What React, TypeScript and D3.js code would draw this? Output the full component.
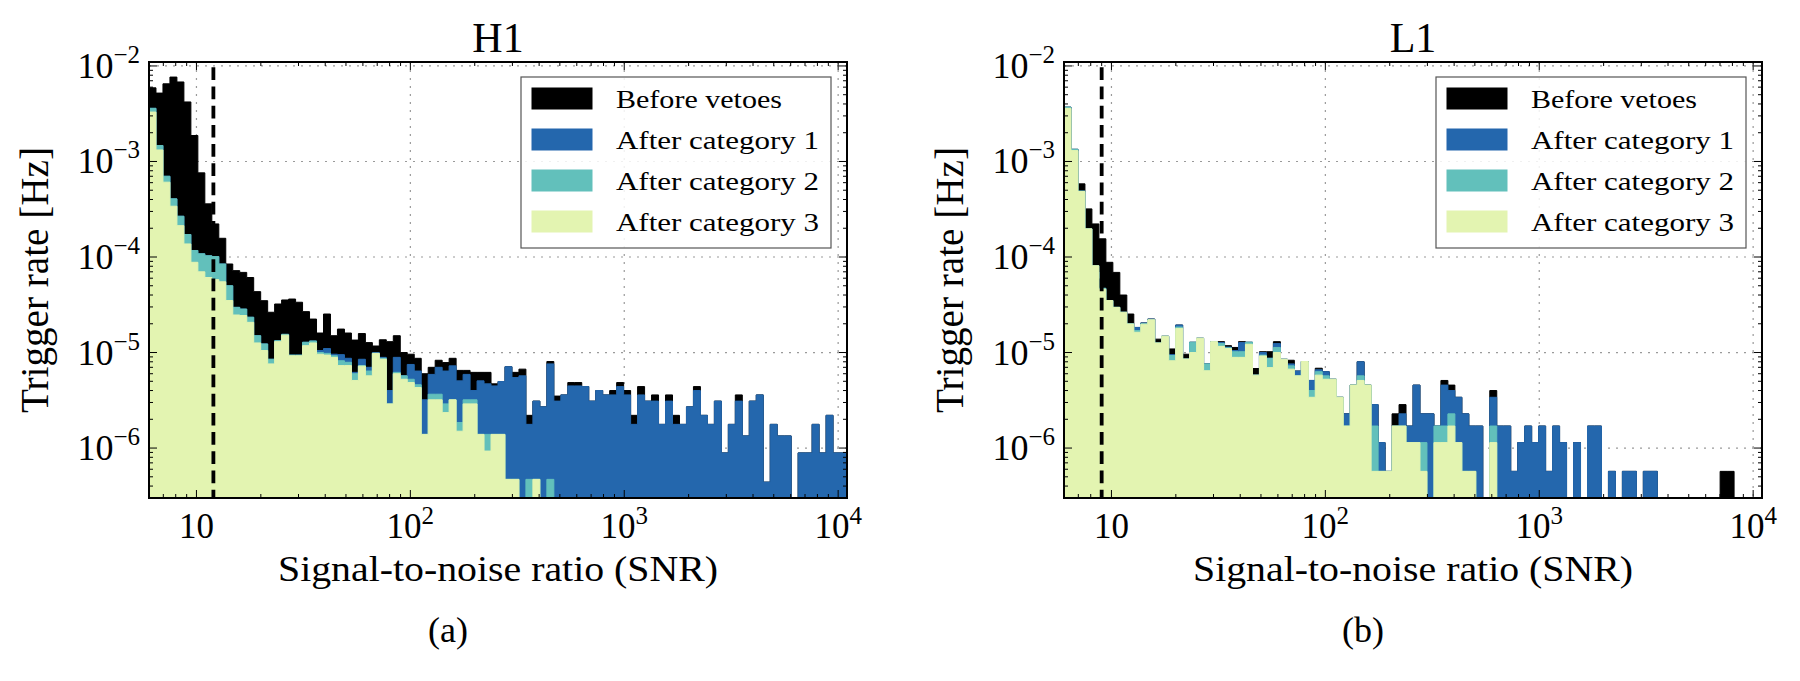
import React from 'react';
import * as d3 from 'd3';

// ---------------- data ----------------
const BIN_COUNT = 100;
const SNR_MIN = 6;
const SNR_MAX = 1.1e4;
const RATE_MIN = 3e-7;
const RATE_MAX = 1.1e-2;

const SERIES_NAMES = ['Before vetoes', 'After category 1', 'After category 2', 'After category 3'];
const X_TICK_VALUES = [10, 100, 1000, 10000];
const X_TICK_EXP = ['', '2', '3', '4'];
const Y_TICK_VALUES = [1e-2, 1e-3, 1e-4, 1e-5, 1e-6];
const Y_TICK_EXP = ['\u22122', '\u22123', '\u22124', '\u22125', '\u22126'];

const H1_BEFORE = [5.9e-3,5.2e-3,6.5e-3,7.65e-3,6.8e-3,4.2e-3,1.87e-3,7.6e-4,3.6e-4,2.22e-4,
1.57e-4,8.45e-5,7.2e-5,6.9e-5,6.1e-5,4.34e-5,3.49e-5,2.64e-5,3.22e-5,3.55e-5,
3.63e-5,3.36e-5,2.68e-5,2.24e-5,1.6e-5,2.53e-5,1.5e-5,1.76e-5,1.6e-5,1.35e-5,
1.58e-5,1.27e-5,1.17e-5,1.36e-5,1.3e-5,1.5e-5,1.0e-5,9.6e-6,8.7e-6,6.0e-6,
7.0e-6,8.3e-6,7.85e-6,8.7e-6,6.5e-6,6.5e-6,6.2e-6,6.2e-6,6.2e-6,4.7e-6,
4.97e-6,7.1e-6,6.2e-6,6.7e-6,2.2e-6,3.1e-6,2.7e-6,8.05e-6,3.5e-6,3.6e-6,
4.85e-6,4.85e-6,4.4e-6,3.1e-6,4.0e-6,3.6e-6,4.0e-6,4.85e-6,4.0e-6,2.2e-6,
4.4e-6,3.1e-6,3.6e-6,1.77e-6,3.6e-6,2.2e-6,1.77e-6,2.7e-6,4.4e-6,2.2e-6,
1.77e-6,3.1e-6,8.9e-7,1.77e-6,3.6e-6,1.34e-6,3.1e-6,3.6e-6,4.4e-7,1.77e-6,
1.34e-6,1.34e-6,0,8.9e-7,8.9e-7,1.77e-6,8.9e-7,2.2e-6,8.9e-7,8.9e-7];

const H1_CAT1 = [3.6e-3,1.47e-3,7.0e-4,4.06e-4,2.67e-4,1.72e-4,1.17e-4,1.08e-4,1.03e-4,1.01e-4,
8.45e-5,5.0e-5,2.97e-5,2.85e-5,2.34e-5,1.5e-5,1.23e-5,8.5e-6,1.33e-5,1.55e-5,
9.4e-6,9.4e-6,1.28e-5,1.32e-5,1.05e-5,1.1e-5,9.6e-6,9.5e-6,8.7e-6,6.2e-6,
8.5e-6,7.0e-6,1.0e-5,8.9e-6,4.0e-6,8.9e-6,5.7e-6,7.5e-6,6.4e-6,3.2e-6,
5.9e-6,7.0e-6,6.4e-6,7.25e-6,5.05e-6,5.9e-6,4.0e-6,5.05e-6,4.7e-6,4.47e-6,
4.97e-6,7.1e-6,5.47e-6,5.7e-6,1.77e-6,3.1e-6,2.7e-6,7.6e-6,3.1e-6,3.6e-6,
4.47e-6,4.47e-6,4.4e-6,3.1e-6,4.0e-6,3.6e-6,3.6e-6,4.4e-6,3.6e-6,1.77e-6,
3.6e-6,3.1e-6,3.1e-6,1.77e-6,3.1e-6,1.77e-6,1.77e-6,2.7e-6,4.0e-6,2.2e-6,
1.77e-6,3.1e-6,8.9e-7,1.77e-6,3.1e-6,1.34e-6,3.1e-6,3.6e-6,4.4e-7,1.77e-6,
1.34e-6,1.34e-6,0,8.9e-7,8.9e-7,1.77e-6,8.9e-7,2.2e-6,8.9e-7,8.9e-7];

const H1_CAT2 = [3.6e-3,1.47e-3,7.0e-4,4.06e-4,2.67e-4,1.72e-4,1.17e-4,1.08e-4,1.03e-4,1.01e-4,
8.45e-5,5.0e-5,2.97e-5,2.85e-5,2.34e-5,1.5e-5,1.23e-5,8.5e-6,1.33e-5,1.55e-5,
9.4e-6,9.4e-6,1.28e-5,1.32e-5,1.0e-5,9.8e-6,9.25e-6,8.2e-6,7.9e-6,6.0e-6,
7.3e-6,6.4e-6,9.8e-6,8.7e-6,2.9e-6,6.2e-6,5.7e-6,5.25e-6,4.6e-6,1.39e-6,
3.66e-6,3.66e-6,2.9e-6,3.2e-6,1.85e-6,3.2e-6,3.2e-6,1.39e-6,1.39e-6,1.39e-6,
1.39e-6,4.7e-7,4.7e-7,0,4.7e-7,4.7e-7,0,4.7e-7,0,0,
0,0,0,0,0,0,0,0,0,0,
0,0,0,0,0,0,0,0,0,0,
0,0,0,0,0,0,0,0,0,0,
0,0,0,0,0,0,0,0,0,0];

const H1_CAT3 = [3.29e-3,1.32e-3,6.07e-4,3.4e-4,2.13e-4,1.37e-4,8.8e-5,7.0e-5,6.1e-5,5.8e-5,
5.5e-5,3.5e-5,2.47e-5,2.44e-5,2.07e-5,1.26e-5,1.05e-5,7.6e-6,1.3e-5,1.52e-5,
9.25e-6,9.25e-6,1.18e-5,1.26e-5,9.6e-6,9.4e-6,8.9e-6,7.3e-6,7.3e-6,5.1e-6,
7.2e-6,5.7e-6,9.8e-6,8.5e-6,2.9e-6,6.0e-6,5.25e-6,4.85e-6,4.3e-6,1.39e-6,
3.2e-6,3.2e-6,2.35e-6,3.2e-6,1.5e-6,2.9e-6,2.9e-6,1.39e-6,9.3e-7,1.39e-6,
1.39e-6,4.7e-7,4.7e-7,0,0,4.7e-7,0,0,0,0,
0,0,0,0,0,0,0,0,0,0,
0,0,0,0,0,0,0,0,0,0,
0,0,0,0,0,0,0,0,0,0,
0,0,0,0,0,0,0,0,0,0];

const L1_BEFORE = [3.7e-3,1.34e-3,5.83e-4,3.19e-4,2.22e-4,1.55e-4,8.8e-5,6.9e-5,4.0e-5,2.53e-5,
1.83e-5,2.04e-5,2.24e-5,1.38e-5,1.48e-5,1.09e-5,1.94e-5,9.6e-6,1.28e-5,1.41e-5,
7.6e-6,1.3e-5,1.3e-5,1.18e-5,1.13e-5,1.3e-5,1.28e-5,6.8e-6,1.02e-5,1.02e-5,
1.3e-5,8.5e-6,8.3e-6,6.4e-6,8.05e-6,5.1e-6,6.85e-6,6.3e-6,5.25e-6,3.4e-6,
2.28e-6,4.56e-6,8.0e-6,4.56e-6,2.85e-6,1.14e-6,5.7e-7,2.28e-6,2.85e-6,1.7e-6,
4.56e-6,2.28e-6,2.28e-6,1.7e-6,5.1e-6,4.56e-6,3.4e-6,2.28e-6,1.7e-6,1.7e-6,
0,4.0e-6,1.7e-6,1.7e-6,5.7e-7,1.14e-6,1.7e-6,1.14e-6,1.7e-6,5.7e-7,
1.7e-6,1.14e-6,0,1.14e-6,0,1.7e-6,1.7e-6,0,5.7e-7,0,
5.7e-7,5.7e-7,0,5.7e-7,5.7e-7,0,0,0,0,0,
0,0,0,0,5.7e-7,5.7e-7,0,0,0,0];

const L1_CAT1 = [3.7e-3,1.34e-3,4.9e-4,1.97e-4,8.1e-5,4.7e-5,3.5e-5,2.97e-5,2.64e-5,2.0e-5,
1.83e-5,2.04e-5,2.24e-5,1.26e-5,1.48e-5,9.5e-6,1.94e-5,8.55e-6,1.28e-5,1.41e-5,
7.6e-6,1.3e-5,1.27e-5,1.14e-5,1.05e-5,1.27e-5,1.28e-5,5.8e-6,1.0e-5,8.7e-6,
1.24e-5,8.5e-6,7.6e-6,6.4e-6,8.05e-6,5.1e-6,6.6e-6,6.3e-6,5.25e-6,3.4e-6,
2.28e-6,4.56e-6,8.0e-6,4.56e-6,2.85e-6,1.14e-6,5.7e-7,1.7e-6,2.28e-6,1.7e-6,
4.56e-6,2.28e-6,2.28e-6,1.7e-6,4.56e-6,4.0e-6,3.4e-6,2.28e-6,1.7e-6,1.7e-6,
0,3.4e-6,1.7e-6,1.7e-6,5.7e-7,1.14e-6,1.7e-6,1.14e-6,1.7e-6,5.7e-7,
1.7e-6,1.14e-6,0,1.14e-6,0,1.7e-6,1.7e-6,0,5.7e-7,0,
5.7e-7,5.7e-7,0,5.7e-7,5.7e-7,0,0,0,0,0,
0,0,0,0,0,0,0,0,0,0];

const L1_CAT2 = [3.7e-3,1.34e-3,4.9e-4,1.97e-4,8.1e-5,4.7e-5,3.5e-5,2.97e-5,2.64e-5,2.0e-5,
1.7e-5,2.0e-5,2.2e-5,1.26e-5,1.48e-5,9.3e-6,1.85e-5,8.55e-6,1.28e-5,1.41e-5,
7.6e-6,1.3e-5,1.24e-5,1.12e-5,1.02e-5,1.02e-5,1.28e-5,5.8e-6,9.4e-6,8.7e-6,
1.13e-5,8.5e-6,7.25e-6,5.7e-6,8.05e-6,4.0e-6,6.3e-6,5.7e-6,5.25e-6,3.4e-6,
1.7e-6,4.56e-6,5.7e-6,4.56e-6,1.7e-6,5.7e-7,5.7e-7,1.7e-6,1.7e-6,1.14e-6,
1.14e-6,1.14e-6,0,1.7e-6,1.7e-6,2.28e-6,1.14e-6,5.7e-7,5.7e-7,0,
0,1.7e-6,0,0,0,0,0,0,0,0,
0,0,0,0,0,0,0,0,0,0,
0,0,0,0,0,0,0,0,0,0,
0,0,0,0,0,0,0,0,0,0];

const L1_CAT3 = [3.6e-3,1.3e-3,4.85e-4,1.97e-4,8.1e-5,4.6e-5,3.5e-5,2.97e-5,2.64e-5,1.99e-5,
1.63e-5,1.98e-5,2.2e-5,1.26e-5,1.48e-5,8.2e-6,1.79e-5,8.55e-6,1.0e-5,1.41e-5,
6.45e-6,1.3e-5,1.16e-5,1.1e-5,8.9e-6,8.9e-6,1.22e-5,5.8e-6,9.2e-6,6.95e-6,
1.0e-5,8.5e-6,6.7e-6,5.7e-6,8.05e-6,3.4e-6,5.8e-6,5.25e-6,5.25e-6,3.4e-6,
1.7e-6,4.56e-6,5.1e-6,4.56e-6,5.7e-7,5.7e-7,5.7e-7,1.7e-6,1.7e-6,1.14e-6,
1.14e-6,5.7e-7,0,1.14e-6,1.14e-6,1.7e-6,1.14e-6,5.7e-7,5.7e-7,0,
0,1.14e-6,0,0,0,0,0,0,0,0,
0,0,0,0,0,0,0,0,0,0,
0,0,0,0,0,0,0,0,0,0,
0,0,0,0,0,0,0,0,0,0];

const H1_THRESHOLD = 12;
const L1_THRESHOLD = 9;

// ---------------- layout & style ----------------
const FONT = "'Liberation Serif', 'DejaVu Serif', serif";
const COLORS = ['#000000', '#2467ad', '#62c0bb', '#e3f4b1'];
const PLOT_TOP = 62;
const PLOT_BOTTOM = 498;
const PLOT_WIDTH = 698;

const EDGES = d3.range(BIN_COUNT + 1).map(
  (i) => SNR_MIN * Math.pow(SNR_MAX / SNR_MIN, i / BIN_COUNT)
);

const PANELS = [
  { id: 'h1', title: 'H1', tag: '(a)', left: 149, threshold: H1_THRESHOLD,
    series: [H1_BEFORE, H1_CAT1, H1_CAT2, H1_CAT3] },
  { id: 'l1', title: 'L1', tag: '(b)', left: 1064, threshold: L1_THRESHOLD,
    series: [L1_BEFORE, L1_CAT1, L1_CAT2, L1_CAT3] },
];

function stepPath(vals: number[], x: any, y: any): string {
  const yb = PLOT_BOTTOM + 2;
  let d = `M${x(EDGES[0])},${yb}`;
  vals.forEach((v, i) => {
    const yy = v > 0 ? y(v) : yb;
    d += `L${x(EDGES[i])},${yy}L${x(EDGES[i + 1])},${yy}`;
  });
  d += `L${x(EDGES[BIN_COUNT])},${yb}Z`;
  return d;
}

function Panel({ p }: { p: any }) {
  const left = p.left;
  const right = left + PLOT_WIDTH;
  const x = d3.scaleLog().domain([SNR_MIN, SNR_MAX]).range([left, right]);
  const y = d3.scaleLog().domain([RATE_MIN, RATE_MAX]).range([PLOT_BOTTOM, PLOT_TOP]);
  const cx = (left + right) / 2;

  const xMinor: number[] = [];
  for (let e = 0; e <= 4; e++) for (let k = 1; k <= 9; k++) {
    const v = k * Math.pow(10, e);
    if (v >= SNR_MIN && v <= SNR_MAX) xMinor.push(v);
  }
  const yMinor: number[] = [];
  for (let e = -7; e <= -2; e++) for (let k = 1; k <= 9; k++) {
    const v = k * Math.pow(10, e);
    if (v >= RATE_MIN && v <= RATE_MAX) yMinor.push(v);
  }
  const isMajor = (v: number) => Math.abs(Math.log10(v) - Math.round(Math.log10(v))) < 1e-9;

  const clipId = `clip-${p.id}`;
  const xt = x(p.threshold);
  const legLeft = right - 16 - 310;
  const legTop = PLOT_TOP + 15;

  return (
    <g>
      <defs>
        <clipPath id={clipId}>
          <rect x={left} y={PLOT_TOP} width={PLOT_WIDTH} height={PLOT_BOTTOM - PLOT_TOP} />
        </clipPath>
      </defs>
      {/* grid */}
      <g stroke="#9a9a9a" strokeWidth={1.2} strokeDasharray="2,6">
        {X_TICK_VALUES.map((v) => (
          <line key={`gx${v}`} x1={x(v)} x2={x(v)} y1={PLOT_TOP} y2={PLOT_BOTTOM} />
        ))}
        {Y_TICK_VALUES.map((v) => (
          <line key={`gy${v}`} x1={left} x2={right} y1={y(v)} y2={y(v)} />
        ))}
      </g>
      {/* histograms */}
      <g clipPath={`url(#${clipId})`}>
        {p.series.map((vals: number[], i: number) => (
          <path key={i} d={stepPath(vals, x, y)} fill={COLORS[i]} stroke={COLORS[i]} strokeWidth={1} />
        ))}
        <line x1={xt} x2={xt} y1={PLOT_TOP} y2={PLOT_BOTTOM} stroke="#000" strokeWidth={3.8}
          strokeDasharray="12.7,6.5" strokeDashoffset={13.9} />
      </g>
      {/* ticks */}
      <g stroke="#000" strokeWidth={1}>
        {xMinor.map((v) => {
          const L = isMajor(v) ? 8 : 4;
          return (
            <g key={`tx${v}`}>
              <line x1={x(v)} x2={x(v)} y1={PLOT_BOTTOM} y2={PLOT_BOTTOM - L} />
              <line x1={x(v)} x2={x(v)} y1={PLOT_TOP} y2={PLOT_TOP + L} />
            </g>
          );
        })}
        {yMinor.map((v) => {
          const L = isMajor(v) ? 8 : 4;
          return (
            <g key={`ty${v}`}>
              <line x1={left} x2={left + L} y1={y(v)} y2={y(v)} />
              <line x1={right} x2={right - L} y1={y(v)} y2={y(v)} />
            </g>
          );
        })}
      </g>
      {/* frame */}
      <rect x={left} y={PLOT_TOP} width={PLOT_WIDTH} height={PLOT_BOTTOM - PLOT_TOP}
        fill="none" stroke="#000" strokeWidth={2} />
      {/* tick labels */}
      <g fontFamily={FONT} fill="#000">
        {X_TICK_VALUES.map((v, i) => (
          <text key={`lx${v}`} x={x(v)} y={PLOT_BOTTOM + 40} textAnchor="middle" fontSize={35}>
            10{X_TICK_EXP[i] ? <tspan dy={-14} fontSize={25}>{X_TICK_EXP[i]}</tspan> : null}
          </text>
        ))}
        {Y_TICK_VALUES.map((v, i) => (
          <text key={`ly${v}`} x={left - 9} y={y(v) + 12} textAnchor="end" fontSize={36}>
            10<tspan dy={-15} fontSize={25}>{Y_TICK_EXP[i]}</tspan>
          </text>
        ))}
      </g>
      {/* titles and axis labels */}
      <g fontFamily={FONT} fill="#000">
        <text x={cx} y={52} textAnchor="middle" fontSize={42}>{p.title}</text>
        <text x={cx} y={581} textAnchor="middle" fontSize={36} textLength={440}
          lengthAdjust="spacingAndGlyphs">Signal-to-noise ratio (SNR)</text>
        <text transform={`translate(${left - 101},280) rotate(-90)`} textAnchor="middle"
          fontSize={40} textLength={266} lengthAdjust="spacingAndGlyphs">Trigger rate [Hz]</text>
        <text x={cx - 50} y={642} textAnchor="middle" fontSize={36}>{p.tag}</text>
      </g>
      {/* legend */}
      <g>
        <rect x={legLeft} y={legTop} width={310} height={171} fill="#fff" fillOpacity={0.85}
          stroke="#555" strokeWidth={1.2} />
        {SERIES_NAMES.map((name, i) => {
          const rowY = legTop + 11 + i * 41;
          return (
            <g key={name}>
              <rect x={legLeft + 11} y={rowY} width={60} height={21} fill={COLORS[i]}
                stroke={COLORS[i]} strokeWidth={1} />
              <text x={legLeft + 95} y={rowY + 20} fontFamily={FONT} fontSize={26}
                textLength={name === 'Before vetoes' ? 166 : 203}
                lengthAdjust="spacingAndGlyphs">{name}</text>
            </g>
          );
        })}
      </g>
    </g>
  );
}

export default function App() {
  return (
    <svg width={1800} height={681} viewBox="0 0 1800 681"
      style={{ position: 'absolute', left: 0, top: 0, background: '#fff' }}>
      <rect x={0} y={0} width={1800} height={681} fill="#fff" />
      {PANELS.map((p) => <Panel key={p.id} p={p} />)}
    </svg>
  );
}
